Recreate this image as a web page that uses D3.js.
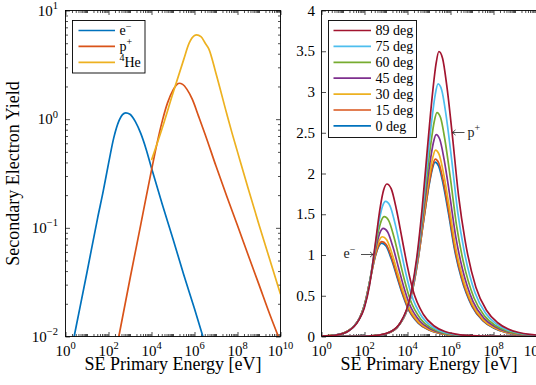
<!DOCTYPE html>
<html>
<head>
<meta charset="utf-8">
<script src="https://cdn.jsdelivr.net/npm/d3@7"></script>
<style>
  body { margin: 0; background: #fff; }
  svg { display: block; }
  svg text { font-family: "Liberation Serif", "DejaVu Serif", "Times New Roman", serif; }
</style>
</head>
<body>
<div id="chart"></div>
<script>
// ---- data: [log10(E / eV), yield] ----
const angles = [0, 15, 30, 45, 60, 75, 89];
const angleColors = ['#0072BD', '#D95319', '#EDB120', '#7E2F8E', '#77AC30', '#4DBEEE', '#A2142F'];

const electron0 = [[0,0.004],[0.5,0.0125],[1,0.039],[1.5,0.125],[1.75,0.215],[2,0.39],[2.25,0.68],[2.5,0.98],[2.65,1.10],[2.8,1.145],[3,1.11],[3.25,0.95],[3.5,0.74],[3.75,0.53],[4,0.355],[4.5,0.165],[5,0.079],[5.5,0.037],[6,0.018],[6.5,0.0085],[7,0.004],[8,0.0009],[9,0.0002],[10,0.00005]];
const electron15 = [[0,0.004],[0.51,0.0127],[1.01,0.0397],[1.51,0.127],[1.76,0.219],[2.01,0.397],[2.26,0.692],[2.51,0.997],[2.66,1.119],[2.81,1.164],[3.01,1.129],[3.26,0.966],[3.51,0.753],[3.76,0.539],[4.01,0.361],[4.51,0.168],[5.01,0.0803],[5.51,0.0376],[6.01,0.0183],[6.51,0.00864],[7.01,0.00407],[8.01,0.000915],[9.01,0.000203],[10.01,0.0000509]];
const electron30 = [[0,0.004],[0.53,0.0134],[1.03,0.0417],[1.53,0.134],[1.78,0.230],[2.03,0.417],[2.28,0.727],[2.53,1.048],[2.68,1.176],[2.83,1.224],[3.03,1.187],[3.28,1.016],[3.53,0.791],[3.78,0.567],[4.03,0.379],[4.53,0.176],[5.03,0.0845],[5.53,0.0396],[6.03,0.0192],[6.53,0.00909],[7.03,0.00428],[8.03,0.000962],[9.03,0.000214],[10.03,0.0000535]];
const electron45 = [[0,0.004],[0.57,0.0145],[1.07,0.0452],[1.57,0.145],[1.82,0.249],[2.07,0.452],[2.32,0.787],[2.57,1.135],[2.72,1.274],[2.87,1.326],[3.07,1.285],[3.32,1.100],[3.57,0.857],[3.82,0.614],[4.07,0.411],[4.57,0.191],[5.07,0.0915],[5.57,0.0428],[6.07,0.0208],[6.57,0.00984],[7.07,0.00463],[8.07,0.00104],[9.07,0.000232],[10.07,0.0000579]];
const electron60 = [[0,0.004],[0.62,0.0161],[1.12,0.0501],[1.62,0.161],[1.87,0.276],[2.12,0.501],[2.37,0.873],[2.62,1.258],[2.77,1.412],[2.92,1.470],[3.12,1.425],[3.37,1.220],[3.62,0.950],[3.87,0.681],[4.12,0.456],[4.62,0.212],[5.12,0.101],[5.62,0.0475],[6.12,0.0231],[6.62,0.0109],[7.12,0.00514],[8.12,0.00116],[9.12,0.000257],[10.12,0.0000642]];
const electron75 = [[0,0.004],[0.68,0.0181],[1.18,0.0565],[1.68,0.181],[1.93,0.311],[2.18,0.565],[2.43,0.985],[2.68,1.419],[2.83,1.593],[2.98,1.658],[3.18,1.607],[3.43,1.376],[3.68,1.072],[3.93,0.767],[4.18,0.514],[4.68,0.239],[5.18,0.114],[5.68,0.0536],[6.18,0.0261],[6.68,0.0123],[7.18,0.00579],[8.18,0.0013],[9.18,0.00029],[10.18,0.0000724]];
const electron89 = [[0,0.004],[0.74,0.0204],[1.24,0.0637],[1.74,0.204],[1.99,0.351],[2.24,0.637],[2.49,1.111],[2.74,1.601],[2.89,1.797],[3.04,1.871],[3.24,1.814],[3.49,1.552],[3.74,1.209],[3.99,0.866],[4.24,0.580],[4.74,0.270],[5.24,0.129],[5.74,0.0605],[6.24,0.0294],[6.74,0.0139],[7.24,0.00654],[8.24,0.00147],[9.24,0.000327],[10.24,0.0000817]];

const proton0 = [[0,0.00003],[1,0.0003],[2,0.0031],[2.48,0.01],[3,0.034],[3.5,0.107],[4,0.34],[4.25,0.59],[4.5,0.96],[4.75,1.42],[5,1.85],[5.15,2.05],[5.28,2.14],[5.45,2.09],[5.65,1.88],[5.9,1.52],[6.2,1.05],[6.5,0.72],[7,0.37],[7.5,0.195],[8,0.105],[8.5,0.056],[9,0.030],[9.5,0.016],[10,0.0089]];
const proton15 = [[0,0.00003],[1.01,0.000305],[2.01,0.00315],[2.49,0.0102],[3.01,0.0346],[3.51,0.109],[4.01,0.346],[4.26,0.600],[4.51,0.976],[4.76,1.444],[5.01,1.881],[5.16,2.085],[5.29,2.176],[5.46,2.126],[5.66,1.912],[5.91,1.546],[6.21,1.068],[6.51,0.732],[7.01,0.376],[7.51,0.198],[8.01,0.107],[8.51,0.0570],[9.01,0.0305],[9.51,0.0163],[10.01,0.00905]];
const proton30 = [[0,0.00003],[1.02,0.000321],[2.02,0.00331],[2.50,0.0107],[3.02,0.0363],[3.52,0.114],[4.02,0.363],[4.27,0.631],[4.52,1.026],[4.77,1.518],[5.02,1.978],[5.17,2.191],[5.30,2.288],[5.47,2.234],[5.67,2.010],[5.92,1.625],[6.22,1.122],[6.52,0.770],[7.02,0.396],[7.52,0.208],[8.02,0.112],[8.52,0.0599],[9.02,0.0321],[9.52,0.0171],[10.02,0.00951]];
const proton45 = [[0,0.00003],[1.05,0.000347],[2.05,0.00359],[2.53,0.0116],[3.05,0.0394],[3.55,0.124],[4.05,0.394],[4.30,0.683],[4.55,1.112],[4.80,1.644],[5.05,2.142],[5.20,2.374],[5.33,2.478],[5.50,2.420],[5.70,2.177],[5.95,1.760],[6.25,1.216],[6.55,0.834],[7.05,0.428],[7.55,0.226],[8.05,0.122],[8.55,0.0648],[9.05,0.0347],[9.55,0.0185],[10.05,0.0103]];
const proton60 = [[0,0.00003],[1.09,0.000385],[2.09,0.00398],[2.57,0.0128],[3.09,0.0437],[3.59,0.137],[4.09,0.437],[4.34,0.758],[4.59,1.233],[4.84,1.823],[5.09,2.375],[5.24,2.632],[5.37,2.748],[5.54,2.684],[5.74,2.414],[5.99,1.952],[6.29,1.348],[6.59,0.924],[7.09,0.475],[7.59,0.250],[8.09,0.135],[8.59,0.0719],[9.09,0.0385],[9.59,0.0205],[10.09,0.0114]];
const proton75 = [[0,0.00003],[1.14,0.000434],[2.14,0.00449],[2.62,0.0145],[3.14,0.0492],[3.64,0.155],[4.14,0.492],[4.39,0.854],[4.64,1.390],[4.89,2.056],[5.14,2.679],[5.29,2.968],[5.42,3.099],[5.59,3.026],[5.79,2.722],[6.04,2.201],[6.34,1.520],[6.64,1.043],[7.14,0.536],[7.64,0.282],[8.14,0.152],[8.64,0.0811],[9.14,0.0434],[9.64,0.0232],[10.14,0.0129]];
const proton89 = [[0,0.00003],[1.18,0.00049],[2.18,0.00507],[2.66,0.0163],[3.18,0.0556],[3.68,0.175],[4.18,0.556],[4.43,0.964],[4.68,1.569],[4.93,2.320],[5.18,3.023],[5.33,3.350],[5.46,3.497],[5.63,3.415],[5.83,3.072],[6.08,2.484],[6.38,1.716],[6.68,1.176],[7.18,0.605],[7.68,0.319],[8.18,0.172],[8.68,0.0915],[9.18,0.049],[9.68,0.0261],[10.18,0.0145]];

const helium = [[4.0,0.42],[4.5,0.83],[5,1.74],[5.5,3.55],[5.75,5.0],[6,5.89],[6.1,5.97],[6.3,5.75],[6.5,5.0],[6.67,4.42],[7,2.63],[7.5,1.12],[7.75,0.74],[8,0.50],[8.5,0.229],[9,0.107],[9.5,0.051],[10,0.0245]];

const electronByAngle = [electron0, electron15, electron30, electron45, electron60, electron75, electron89];
const protonByAngle = [proton0, proton15, proton30, proton45, proton60, proton75, proton89];

const logTickExps = [0, 2, 4, 6, 8, 10];
const yLogTickExps = [-2, -1, 0, 1];
const yLinTicks = [0, 0.5, 1, 1.5, 2, 2.5, 3, 3.5, 4];

// ---- layout ----
const width = 536, height = 385;
const FONT = '"Liberation Serif", "DejaVu Serif", "Times New Roman", serif';
const L = { x0: 65.5, x1: 280.5, y0: 10.5, y1: 336.5 };
const R = { x0: 321.5, x1: 536.5, y0: 10.5, y1: 336.5 };

const svg = d3.select('#chart').append('svg').attr('width', width).attr('height', height)
  .attr('font-family', FONT);

const xL = d3.scaleLog().domain([1, 1e10]).range([L.x0, L.x1]);
const yL = d3.scaleLog().domain([1e-2, 10]).range([L.y1, L.y0]);
const xR = d3.scaleLog().domain([1, 1e10]).range([R.x0, R.x1]);
const yR = d3.scaleLinear().domain([0, 4]).range([R.y1, R.y0]);

// minor ticks: 2..9 x 10^n plus the odd decades
const xMinor = d3.range(0, 10).flatMap(n => d3.range(2, 11).map(m => m * 10 ** n))
  .filter(v => !logTickExps.map(e => 10 ** e).includes(v));
const yMinor = d3.range(-2, 1).flatMap(n => d3.range(2, 10).map(m => m * 10 ** n));

function ticks(g, axis) {
  g.call(axis);
  g.select('.domain').remove();
  g.selectAll('text').remove();
  g.selectAll('line').attr('stroke', '#000').attr('stroke-width', 0.7);
}

function addText(x, y, size) {
  return svg.append('text').attr('x', x).attr('y', y).attr('font-size', size).attr('font-family', FONT);
}

function powLabel(t, e) {
  t.text('10');
  t.append('tspan').attr('dy', -6.5).attr('font-size', 10.5).text(e < 0 ? '\u2212' + (-e) : e);
}

function panelX(x, box) {
  const maj = logTickExps.map(e => 10 ** e);
  ticks(svg.append('g').attr('transform', `translate(0,${box.y1})`), d3.axisBottom(x).tickValues(maj).tickSizeInner(-4.5).tickSizeOuter(0));
  ticks(svg.append('g').attr('transform', `translate(0,${box.y1})`), d3.axisBottom(x).tickValues(xMinor).tickSizeInner(-2.5).tickSizeOuter(0));
  ticks(svg.append('g').attr('transform', `translate(0,${box.y0})`), d3.axisTop(x).tickValues(maj).tickSizeInner(-4.5).tickSizeOuter(0));
  ticks(svg.append('g').attr('transform', `translate(0,${box.y0})`), d3.axisTop(x).tickValues(xMinor).tickSizeInner(-2.5).tickSizeOuter(0));
  logTickExps.forEach(e => {
    addText(x(10 ** e), box.y1 + 19, 15).attr('text-anchor', 'middle').call(powLabel, e);
  });
  addText((box.x0 + box.x1) / 2, 370, 18).attr('text-anchor', 'middle').text('SE Primary Energy [eV]');
}

// ---- left panel ----
panelX(xL, L);
const yMaj = yLogTickExps.map(e => 10 ** e);
ticks(svg.append('g').attr('transform', `translate(${L.x0},0)`), d3.axisLeft(yL).tickValues(yMaj).tickSizeInner(-4.5).tickSizeOuter(0));
ticks(svg.append('g').attr('transform', `translate(${L.x0},0)`), d3.axisLeft(yL).tickValues(yMinor).tickSizeInner(-2.5).tickSizeOuter(0));
ticks(svg.append('g').attr('transform', `translate(${L.x1},0)`), d3.axisRight(yL).tickValues(yMaj).tickSizeInner(-4.5).tickSizeOuter(0));
ticks(svg.append('g').attr('transform', `translate(${L.x1},0)`), d3.axisRight(yL).tickValues(yMinor).tickSizeInner(-2.5).tickSizeOuter(0));
yLogTickExps.forEach(e => {
  addText(58, yL(10 ** e) + 5, 15).attr('text-anchor', 'end').call(powLabel, e);
});
svg.append('text').attr('transform', `translate(19,${(L.y0 + L.y1) / 2}) rotate(-90)`)
  .attr('font-family', FONT).attr('text-anchor', 'middle').attr('font-size', 18).text('Secondary Electron Yield');

const defs = svg.append('defs');
defs.append('clipPath').attr('id', 'clipL').append('rect')
  .attr('x', L.x0).attr('y', L.y0).attr('width', L.x1 - L.x0).attr('height', L.y1 - L.y0);
defs.append('clipPath').attr('id', 'clipR').append('rect')
  .attr('x', R.x0).attr('y', R.y0 - 2).attr('width', R.x1 - R.x0).attr('height', R.y1 - R.y0 + 2);

const lineL = d3.line().x(d => xL(10 ** d[0])).y(d => yL(d[1])).curve(d3.curveMonotoneX);
const lineR = d3.line().x(d => xR(10 ** d[0])).y(d => yR(d[1])).curve(d3.curveMonotoneX);

const gL = svg.append('g').attr('clip-path', 'url(#clipL)');
const leftSeries = [
  { data: electron0, color: '#0072BD' },
  { data: proton0, color: '#D95319' },
  { data: helium, color: '#EDB120' },
];
gL.selectAll('path').data(leftSeries).enter().append('path')
  .attr('d', d => lineL(d.data)).attr('fill', 'none')
  .attr('stroke', d => d.color).attr('stroke-width', 1.7).attr('stroke-linejoin', 'round');

svg.append('rect').attr('x', L.x0).attr('y', L.y0).attr('width', L.x1 - L.x0).attr('height', L.y1 - L.y0)
  .attr('fill', 'none').attr('stroke', '#000').attr('stroke-width', 0.9);

// left legend
svg.append('rect').attr('x', 72.5).attr('y', 20.5).attr('width', 72.5).attr('height', 52.5)
  .attr('fill', '#fff').attr('stroke', '#000').attr('stroke-width', 0.9);
const legLItems = [
  { color: '#0072BD', pre: '', base: 'e', sup: '\u2212' },
  { color: '#D95319', pre: '', base: 'p', sup: '+' },
  { color: '#EDB120', pre: '4', base: 'He', sup: '' },
];
legLItems.forEach((it, i) => {
  const y = 30.5 + i * 15.9;
  svg.append('line').attr('x1', 78.5).attr('x2', 115).attr('y1', y).attr('y2', y)
    .attr('stroke', it.color).attr('stroke-width', 1.7);
  const t = addText(119.5, y + 4.5, 14);
  if (it.pre) {
    t.append('tspan').attr('dy', -5.5).attr('font-size', 10).text(it.pre);
    t.append('tspan').attr('dy', 5.5).text(it.base);
  } else {
    t.append('tspan').text(it.base);
    t.append('tspan').attr('dy', -5.5).attr('font-size', 10).text(it.sup);
  }
});

// ---- right panel ----
panelX(xR, R);
ticks(svg.append('g').attr('transform', `translate(${R.x0},0)`), d3.axisLeft(yR).tickValues(yLinTicks).tickSizeInner(-4.5).tickSizeOuter(0));
yLinTicks.forEach(v => {
  addText(315, yR(v) + 5, 15).attr('text-anchor', 'end').text(d3.format('')(v));
});

const gR = svg.append('g').attr('clip-path', 'url(#clipR)');
angles.forEach((a, i) => {
  [electronByAngle[i], protonByAngle[i]].forEach(data => {
    gR.append('path').attr('d', lineR(data)).attr('fill', 'none')
      .attr('stroke', angleColors[i]).attr('stroke-width', 1.7).attr('stroke-linejoin', 'round');
  });
});

svg.append('path').attr('d', `M${R.x1},${R.y0}H${R.x0}V${R.y1}H${R.x1}`)
  .attr('fill', 'none').attr('stroke', '#000').attr('stroke-width', 0.9);

// right legend
svg.append('rect').attr('x', 328.5).attr('y', 20.5).attr('width', 88).attr('height', 117)
  .attr('fill', '#fff').attr('stroke', '#000').attr('stroke-width', 0.9);
angles.slice().reverse().forEach((a, j) => {
  const i = angles.length - 1 - j;
  const y = 30.5 + j * 15.9;
  svg.append('line').attr('x1', 333.5).attr('x2', 371).attr('y1', y).attr('y2', y)
    .attr('stroke', angleColors[i]).attr('stroke-width', 1.7);
  addText(375.5, y + 4.8, 14).text(`${a} deg`);
});

// annotations
function arrow(x1, x2, y) {
  const dir = Math.sign(x2 - x1);
  svg.append('path').attr('d', `M${x1},${y}H${x2}M${x2 - dir * 3},${y - 2.6}L${x2},${y}L${x2 - dir * 3},${y + 2.6}`)
    .attr('fill', 'none').attr('stroke', '#222').attr('stroke-width', 0.8);
}
const eLab = addText(343.5, 258, 14).attr('fill', '#222');
eLab.append('tspan').text('e');
eLab.append('tspan').attr('dy', -5.5).attr('font-size', 10).text('\u2212');
arrow(361, 373, 254.5);
const pLab = addText(467.5, 136.5, 14).attr('fill', '#222');
pLab.append('tspan').text('p');
pLab.append('tspan').attr('dy', -5.5).attr('font-size', 10).text('+');
arrow(464.5, 452.5, 132.5);
</script>
</body>
</html>
